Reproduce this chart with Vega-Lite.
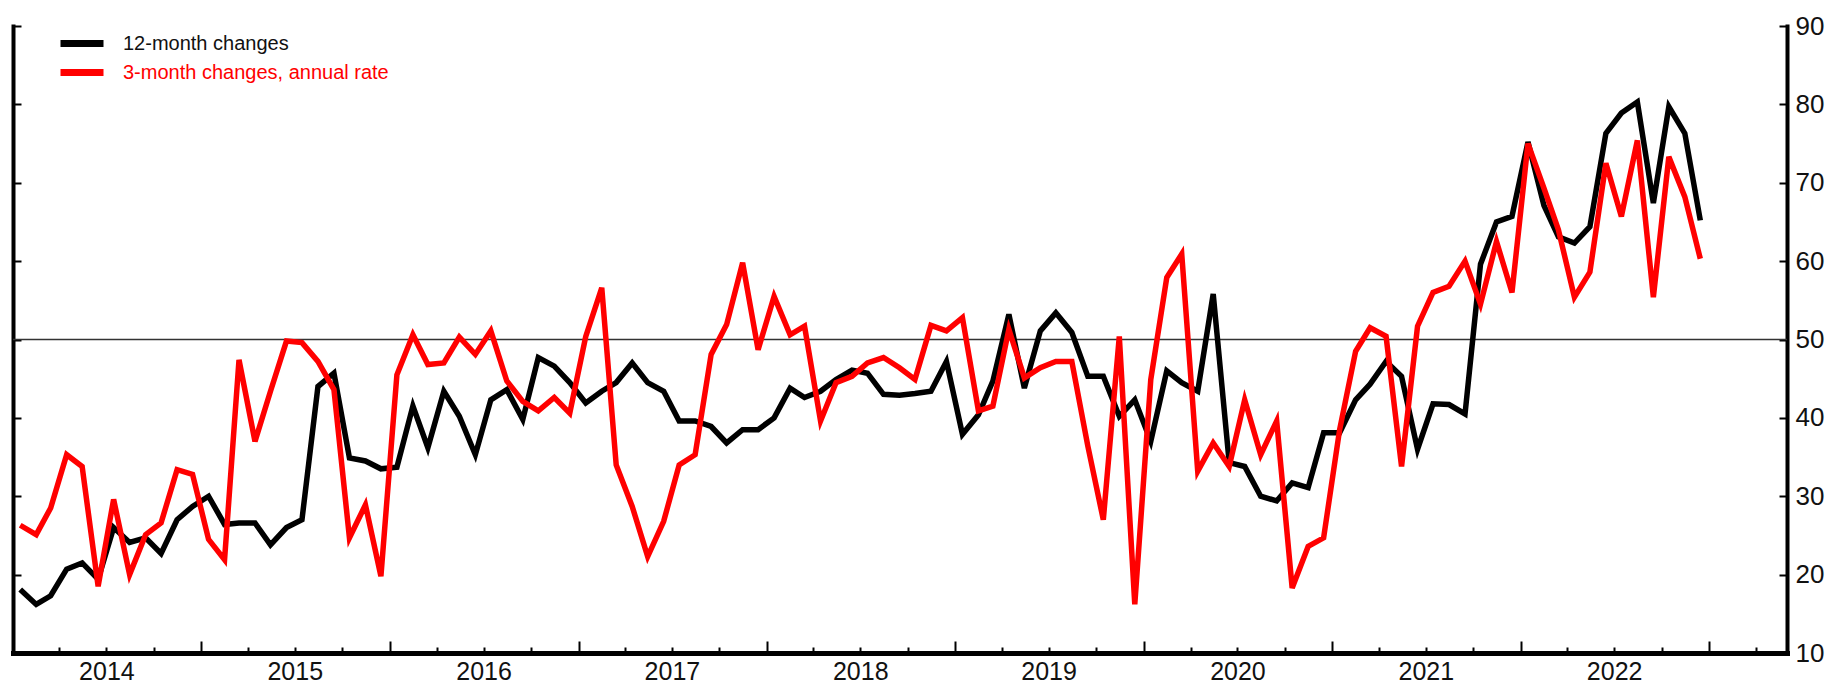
{
  "$schema": "https://vega.github.io/schema/vega-lite/v6.json",
  "width": 1774,
  "height": 627,
  "autosize": {"type": "none"},
  "padding": {"left": 13, "top": 26, "right": 58, "bottom": 34},
  "background": "white",
  "config": {
    "view": {"stroke": null},
    "font": "Liberation Sans",
    "axis": {
      "grid": false,
      "title": null,
      "domainColor": "black",
      "tickColor": "black",
      "labelColor": "#111",
      "labelFont": "Liberation Sans"
    }
  },
  "data": {
    "values": [
      {"date": "2014-01-15", "m12": 18.1, "m3": 26.3},
      {"date": "2014-02-15", "m12": 16.2, "m3": 25.1},
      {"date": "2014-03-15", "m12": 17.3, "m3": 28.5},
      {"date": "2014-04-15", "m12": 20.7, "m3": 35.3},
      {"date": "2014-05-15", "m12": 21.5, "m3": 33.8},
      {"date": "2014-06-15", "m12": 19.4, "m3": 18.5},
      {"date": "2014-07-15", "m12": 26.0, "m3": 29.6},
      {"date": "2014-08-15", "m12": 24.1, "m3": 20.0},
      {"date": "2014-09-15", "m12": 24.7, "m3": 25.1},
      {"date": "2014-10-15", "m12": 22.7, "m3": 26.6},
      {"date": "2014-11-15", "m12": 27.0, "m3": 33.4},
      {"date": "2014-12-15", "m12": 28.7, "m3": 32.8},
      {"date": "2015-01-15", "m12": 30.0, "m3": 24.5},
      {"date": "2015-02-15", "m12": 26.4, "m3": 21.9},
      {"date": "2015-03-15", "m12": 26.6, "m3": 47.4},
      {"date": "2015-04-15", "m12": 26.6, "m3": 37.0},
      {"date": "2015-05-15", "m12": 23.8, "m3": 43.4},
      {"date": "2015-06-15", "m12": 26.0, "m3": 49.8},
      {"date": "2015-07-15", "m12": 27.0, "m3": 49.6},
      {"date": "2015-08-15", "m12": 44.0, "m3": 47.2},
      {"date": "2015-09-15", "m12": 45.7, "m3": 43.6},
      {"date": "2015-10-15", "m12": 34.9, "m3": 24.7},
      {"date": "2015-11-15", "m12": 34.5, "m3": 28.9},
      {"date": "2015-12-15", "m12": 33.5, "m3": 19.8},
      {"date": "2016-01-15", "m12": 33.7, "m3": 45.5},
      {"date": "2016-02-15", "m12": 41.5, "m3": 50.6},
      {"date": "2016-03-15", "m12": 36.2, "m3": 46.8},
      {"date": "2016-04-15", "m12": 43.4, "m3": 47.0},
      {"date": "2016-05-15", "m12": 40.2, "m3": 50.3},
      {"date": "2016-06-15", "m12": 35.3, "m3": 48.1},
      {"date": "2016-07-15", "m12": 42.3, "m3": 51.1},
      {"date": "2016-08-15", "m12": 43.6, "m3": 44.7},
      {"date": "2016-09-15", "m12": 39.8, "m3": 42.1},
      {"date": "2016-10-15", "m12": 47.7, "m3": 40.9},
      {"date": "2016-11-15", "m12": 46.6, "m3": 42.6},
      {"date": "2016-12-15", "m12": 44.5, "m3": 40.6},
      {"date": "2017-01-15", "m12": 41.9, "m3": 50.4},
      {"date": "2017-02-15", "m12": 43.4, "m3": 56.6},
      {"date": "2017-03-15", "m12": 44.5, "m3": 34.0},
      {"date": "2017-04-15", "m12": 47.0, "m3": 28.7},
      {"date": "2017-05-15", "m12": 44.5, "m3": 22.3},
      {"date": "2017-06-15", "m12": 43.4, "m3": 26.8},
      {"date": "2017-07-15", "m12": 39.6, "m3": 34.0},
      {"date": "2017-08-15", "m12": 39.6, "m3": 35.3},
      {"date": "2017-09-15", "m12": 38.9, "m3": 48.1},
      {"date": "2017-10-15", "m12": 36.8, "m3": 51.9},
      {"date": "2017-11-15", "m12": 38.5, "m3": 59.8},
      {"date": "2017-12-15", "m12": 38.5, "m3": 48.7},
      {"date": "2018-01-15", "m12": 40.0, "m3": 55.5},
      {"date": "2018-02-15", "m12": 43.8, "m3": 50.6},
      {"date": "2018-03-15", "m12": 42.6, "m3": 51.7},
      {"date": "2018-04-15", "m12": 43.4, "m3": 39.6},
      {"date": "2018-05-15", "m12": 44.9, "m3": 44.5},
      {"date": "2018-06-15", "m12": 46.1, "m3": 45.3},
      {"date": "2018-07-15", "m12": 45.7, "m3": 47.0},
      {"date": "2018-08-15", "m12": 43.0, "m3": 47.7},
      {"date": "2018-09-15", "m12": 42.9, "m3": 46.4},
      {"date": "2018-10-15", "m12": 43.1, "m3": 44.9},
      {"date": "2018-11-15", "m12": 43.4, "m3": 51.8},
      {"date": "2018-12-15", "m12": 47.2, "m3": 51.1},
      {"date": "2019-01-15", "m12": 37.9, "m3": 52.8},
      {"date": "2019-02-15", "m12": 40.4, "m3": 40.9},
      {"date": "2019-03-15", "m12": 44.7, "m3": 41.5},
      {"date": "2019-04-15", "m12": 53.2, "m3": 51.3},
      {"date": "2019-05-15", "m12": 43.8, "m3": 45.1},
      {"date": "2019-06-15", "m12": 51.1, "m3": 46.4},
      {"date": "2019-07-15", "m12": 53.4, "m3": 47.2},
      {"date": "2019-08-15", "m12": 50.9, "m3": 47.2},
      {"date": "2019-09-15", "m12": 45.3, "m3": 36.4},
      {"date": "2019-10-15", "m12": 45.3, "m3": 27.0},
      {"date": "2019-11-15", "m12": 40.2, "m3": 50.4},
      {"date": "2019-12-15", "m12": 42.3, "m3": 16.2},
      {"date": "2020-01-15", "m12": 37.0, "m3": 44.9},
      {"date": "2020-02-15", "m12": 46.0, "m3": 57.9},
      {"date": "2020-03-15", "m12": 44.5, "m3": 60.9},
      {"date": "2020-04-15", "m12": 43.4, "m3": 33.2},
      {"date": "2020-05-15", "m12": 55.8, "m3": 36.8},
      {"date": "2020-06-15", "m12": 34.3, "m3": 33.8},
      {"date": "2020-07-15", "m12": 33.8, "m3": 42.3},
      {"date": "2020-08-15", "m12": 30.0, "m3": 35.3},
      {"date": "2020-09-15", "m12": 29.4, "m3": 39.6},
      {"date": "2020-10-15", "m12": 31.7, "m3": 18.3},
      {"date": "2020-11-15", "m12": 31.1, "m3": 23.6},
      {"date": "2020-12-15", "m12": 38.1, "m3": 24.7},
      {"date": "2021-01-15", "m12": 38.1, "m3": 38.5},
      {"date": "2021-02-15", "m12": 42.3, "m3": 48.5},
      {"date": "2021-03-15", "m12": 44.3, "m3": 51.5},
      {"date": "2021-04-15", "m12": 47.2, "m3": 50.4},
      {"date": "2021-05-15", "m12": 45.3, "m3": 33.8},
      {"date": "2021-06-15", "m12": 36.0, "m3": 51.7},
      {"date": "2021-07-15", "m12": 41.8, "m3": 56.0},
      {"date": "2021-08-15", "m12": 41.7, "m3": 56.8},
      {"date": "2021-09-15", "m12": 40.5, "m3": 60.0},
      {"date": "2021-10-15", "m12": 59.6, "m3": 54.5},
      {"date": "2021-11-15", "m12": 65.0, "m3": 62.5},
      {"date": "2021-12-15", "m12": 65.7, "m3": 56.0},
      {"date": "2022-01-15", "m12": 75.2, "m3": 75.0},
      {"date": "2022-02-15", "m12": 67.1, "m3": 69.3},
      {"date": "2022-03-15", "m12": 63.1, "m3": 64.0},
      {"date": "2022-04-15", "m12": 62.3, "m3": 55.4},
      {"date": "2022-05-15", "m12": 64.4, "m3": 58.6},
      {"date": "2022-06-15", "m12": 76.3, "m3": 72.5},
      {"date": "2022-07-15", "m12": 78.9, "m3": 65.7},
      {"date": "2022-08-15", "m12": 80.3, "m3": 75.4},
      {"date": "2022-09-15", "m12": 67.4, "m3": 55.4},
      {"date": "2022-10-15", "m12": 79.7, "m3": 73.3},
      {"date": "2022-11-15", "m12": 76.3, "m3": 68.2},
      {"date": "2022-12-15", "m12": 65.2, "m3": 60.3}
    ]
  },
  "resolve": {"axis": {"y": "independent"}},
  "layer": [
    {
      "data": {"values": [{"level": 50}]},
      "mark": {"type": "rule", "color": "#333", "strokeWidth": 1.5},
      "encoding": {
        "y": {
          "field": "level",
          "type": "quantitative",
          "scale": {"domain": [10, 90], "nice": false, "zero": false},
          "axis": {
            "orient": "left",
            "values": [10, 20, 30, 40, 50, 60, 70, 80, 90],
            "labels": false,
            "tickSize": -8,
            "tickWidth": 2,
            "domainWidth": 4,
            "domainCap": "square"
          }
        }
      }
    },
    {
      "transform": [
        {"fold": ["m12", "m3"], "as": ["series", "value"]},
        {"filter": "datum.series == 'm12'"}
      ],
      "mark": {"type": "line", "strokeWidth": 5.5, "strokeJoin": "miter"},
      "encoding": {
        "x": {
          "field": "date",
          "type": "temporal",
          "scale": {
            "type": "utc",
            "domain": [
              {"year": 2014, "month": 1, "date": 1, "utc": true},
              {"year": 2023, "month": 6, "date": 1, "utc": true}
            ]
          },
          "axis": {
            "orient": "bottom",
            "tickCount": {"interval": "month", "step": 3},
            "tickSize": {"condition": {"test": "utcmonth(datum.value) == 0", "value": -12}, "value": -6},
            "tickWidth": 2,
            "domainWidth": 5,
            "domainCap": "square",
            "labelExpr": "utcmonth(datum.value) == 6 ? utcFormat(datum.value, '%Y') : ''",
            "labelOverlap": false,
            "labelFlush": false,
            "labelFontSize": 25,
            "labelPadding": 12
          }
        },
        "y": {
          "field": "value",
          "type": "quantitative",
          "scale": {"domain": [10, 90], "nice": false, "zero": false},
          "axis": {
            "orient": "right",
            "values": [10, 20, 30, 40, 50, 60, 70, 80, 90],
            "tickSize": -8,
            "tickWidth": 2,
            "domainWidth": 4,
            "domainCap": "square",
            "labelFontSize": 26,
            "labelPadding": 16
          }
        },
        "color": {
          "field": "series",
          "type": "nominal",
          "scale": {"domain": ["m12", "m3"], "range": ["#000000", "#ff0000"]},
          "legend": {
            "orient": "none",
            "legendX": 44,
            "legendY": 3,
            "title": null,
            "padding": 0,
            "rowPadding": 0,
            "clipHeight": 29,
            "symbolType": "stroke",
            "symbolStrokeWidth": 7,
            "symbolSize": 1849,
            "labelFontSize": 20,
            "labelOffset": 16,
            "labelLimit": 0,
            "labelFont": "Liberation Sans",
            "labelExpr": "datum.value == 'm12' ? '12-month changes' : '3-month changes, annual rate'",
            "encode": {
              "labels": {
                "update": {"fill": {"signal": "datum.value == 'm12' ? '#111111' : '#ff0000'"}}
              }
            }
          }
        }
      }
    },
    {
      "transform": [
        {"fold": ["m12", "m3"], "as": ["series", "value"]},
        {"filter": "datum.series == 'm3'"}
      ],
      "mark": {"type": "line", "strokeWidth": 5.5, "strokeJoin": "miter"},
      "encoding": {
        "x": {"field": "date", "type": "temporal"},
        "y": {"field": "value", "type": "quantitative", "axis": null},
        "color": {"field": "series", "type": "nominal"}
      }
    }
  ]
}
